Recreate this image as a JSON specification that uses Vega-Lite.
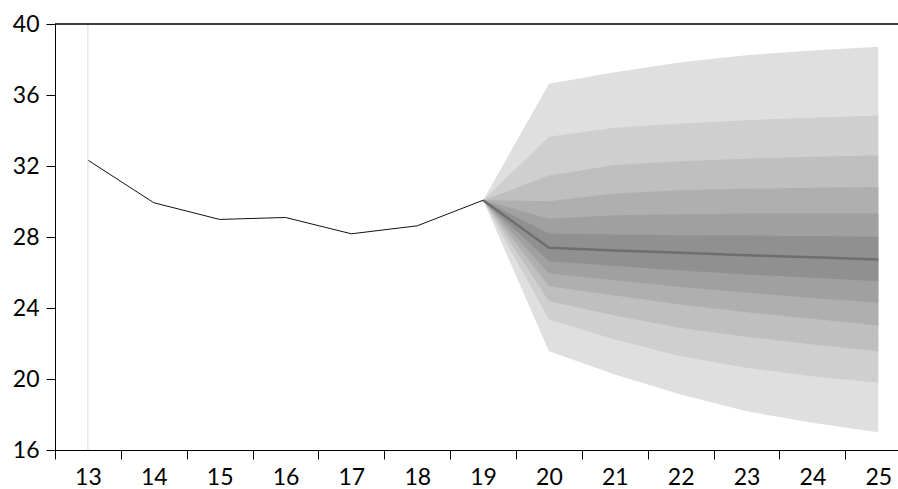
{
  "$schema": "https://vega.github.io/schema/vega-lite/v6.json",
  "autosize": {"type": "none"},
  "padding": {"left": 55, "top": 24, "right": 0, "bottom": 39},
  "width": 843,
  "height": 426,
  "background": "white",
  "config": {
    "view": {"stroke": null},
    "axis": {"labelFont": "Lato", "labelFontSize": 23, "labelColor": "black", "domainColor": "black", "tickColor": "black", "grid": false, "title": null}
  },
  "datasets": {
    "hist": [
      {"t": 13, "v": 32.33}, {"t": 14, "v": 29.93}, {"t": 15, "v": 28.99}, {"t": 16, "v": 29.1},
      {"t": 17, "v": 28.18}, {"t": 18, "v": 28.63}, {"t": 19, "v": 30.07}
    ],
    "median": [
      {"t": 19, "v": 30.07}, {"t": 20, "v": 27.39}, {"t": 21, "v": 27.24}, {"t": 22, "v": 27.11},
      {"t": 23, "v": 26.97}, {"t": 24, "v": 26.86}, {"t": 25, "v": 26.73}
    ],
    "fan": [
      {"band": "b6", "t": 19, "lo": 30.07, "hi": 30.07},
      {"band": "b6", "t": 20, "lo": 21.57, "hi": 36.63},
      {"band": "b6", "t": 21, "lo": 20.25, "hi": 37.28},
      {"band": "b6", "t": 22, "lo": 19.13, "hi": 37.85},
      {"band": "b6", "t": 23, "lo": 18.19, "hi": 38.24},
      {"band": "b6", "t": 24, "lo": 17.53, "hi": 38.51},
      {"band": "b6", "t": 25, "lo": 17.0, "hi": 38.72},
      {"band": "b5", "t": 19, "lo": 30.07, "hi": 30.07},
      {"band": "b5", "t": 20, "lo": 23.35, "hi": 33.65},
      {"band": "b5", "t": 21, "lo": 22.23, "hi": 34.15},
      {"band": "b5", "t": 22, "lo": 21.28, "hi": 34.39},
      {"band": "b5", "t": 23, "lo": 20.63, "hi": 34.58},
      {"band": "b5", "t": 24, "lo": 20.16, "hi": 34.72},
      {"band": "b5", "t": 25, "lo": 19.79, "hi": 34.85},
      {"band": "b4", "t": 19, "lo": 30.07, "hi": 30.07},
      {"band": "b4", "t": 20, "lo": 24.38, "hi": 31.46},
      {"band": "b4", "t": 21, "lo": 23.58, "hi": 32.05},
      {"band": "b4", "t": 22, "lo": 22.88, "hi": 32.27},
      {"band": "b4", "t": 23, "lo": 22.38, "hi": 32.41},
      {"band": "b4", "t": 24, "lo": 21.94, "hi": 32.52},
      {"band": "b4", "t": 25, "lo": 21.57, "hi": 32.59},
      {"band": "b3", "t": 19, "lo": 30.07, "hi": 30.07},
      {"band": "b3", "t": 20, "lo": 25.23, "hi": 30.02},
      {"band": "b3", "t": 21, "lo": 24.7, "hi": 30.45},
      {"band": "b3", "t": 22, "lo": 24.2, "hi": 30.64},
      {"band": "b3", "t": 23, "lo": 23.76, "hi": 30.73},
      {"band": "b3", "t": 24, "lo": 23.39, "hi": 30.77},
      {"band": "b3", "t": 25, "lo": 23.01, "hi": 30.81},
      {"band": "b2", "t": 19, "lo": 30.07, "hi": 30.07},
      {"band": "b2", "t": 20, "lo": 25.94, "hi": 29.03},
      {"band": "b2", "t": 21, "lo": 25.57, "hi": 29.23},
      {"band": "b2", "t": 22, "lo": 25.19, "hi": 29.28},
      {"band": "b2", "t": 23, "lo": 24.86, "hi": 29.32},
      {"band": "b2", "t": 24, "lo": 24.57, "hi": 29.32},
      {"band": "b2", "t": 25, "lo": 24.29, "hi": 29.32},
      {"band": "b1", "t": 19, "lo": 30.07, "hi": 30.07},
      {"band": "b1", "t": 20, "lo": 26.64, "hi": 28.2},
      {"band": "b1", "t": 21, "lo": 26.36, "hi": 28.14},
      {"band": "b1", "t": 22, "lo": 26.11, "hi": 28.1},
      {"band": "b1", "t": 23, "lo": 25.89, "hi": 28.08},
      {"band": "b1", "t": 24, "lo": 25.7, "hi": 28.05},
      {"band": "b1", "t": 25, "lo": 25.51, "hi": 28.01}
    ]
  },
  "encoding": {
    "x": {"field": "t", "type": "quantitative",
      "scale": {"domain": [12.5, 25.3], "nice": false, "zero": false},
      "axis": {
        "values": [12.5, 13, 13.5, 14, 14.5, 15, 15.5, 16, 16.5, 17, 17.5, 18, 18.5, 19, 19.5, 20, 20.5, 21, 21.5, 22, 22.5, 23, 23.5, 24, 24.5, 25],
        "format": ".1~f",
        "labelOpacity": {"condition": {"test": "datum.value % 1 !== 0", "value": 0}, "value": 1},
        "tickOpacity": {"condition": {"test": "datum.value % 1 === 0", "value": 0}, "value": 1},
        "tickSize": 9, "labelPadding": 7, "labelFlush": false, "labelOverlap": false, "labelBound": false
      }
    }
  },
  "layer": [
    {
      "data": {"name": "fan"},
      "mark": {"type": "area", "opacity": 1},
      "encoding": {
        "y": {"field": "lo", "type": "quantitative",
          "scale": {"domain": [16, 40], "nice": false, "zero": false},
          "axis": {"values": [16, 20, 24, 28, 32, 36, 40], "tickSize": 9, "labelPadding": 7}
        },
        "y2": {"field": "hi"},
        "color": {"field": "band", "type": "nominal", "legend": null,
          "scale": {"domain": ["b6", "b5", "b4", "b3", "b2", "b1"], "range": ["#dfdfdf", "#cfcfcf", "#bfbfbf", "#afafaf", "#a0a0a0", "#909090"]}
        }
      }
    },
    {
      "data": {"name": "median"},
      "mark": {"type": "line", "color": "#6e6e6e", "strokeWidth": 2.5},
      "encoding": {
        "y": {"field": "v", "type": "quantitative"}
      }
    },
    {
      "data": {"name": "hist"},
      "mark": {"type": "line", "color": "#111111", "strokeWidth": 1},
      "encoding": {
        "y": {"field": "v", "type": "quantitative"}
      }
    },
    {
      "data": {"values": [{"t": 13}]},
      "mark": {"type": "rule", "color": "#d9d9d9", "strokeWidth": 1},
      "encoding": {}
    },
    {
      "data": {"values": [{}]},
      "mark": {"type": "rule", "color": "black", "strokeWidth": 1.5},
      "encoding": {"x": null, "y": {"datum": 40}}
    }
  ]
}
